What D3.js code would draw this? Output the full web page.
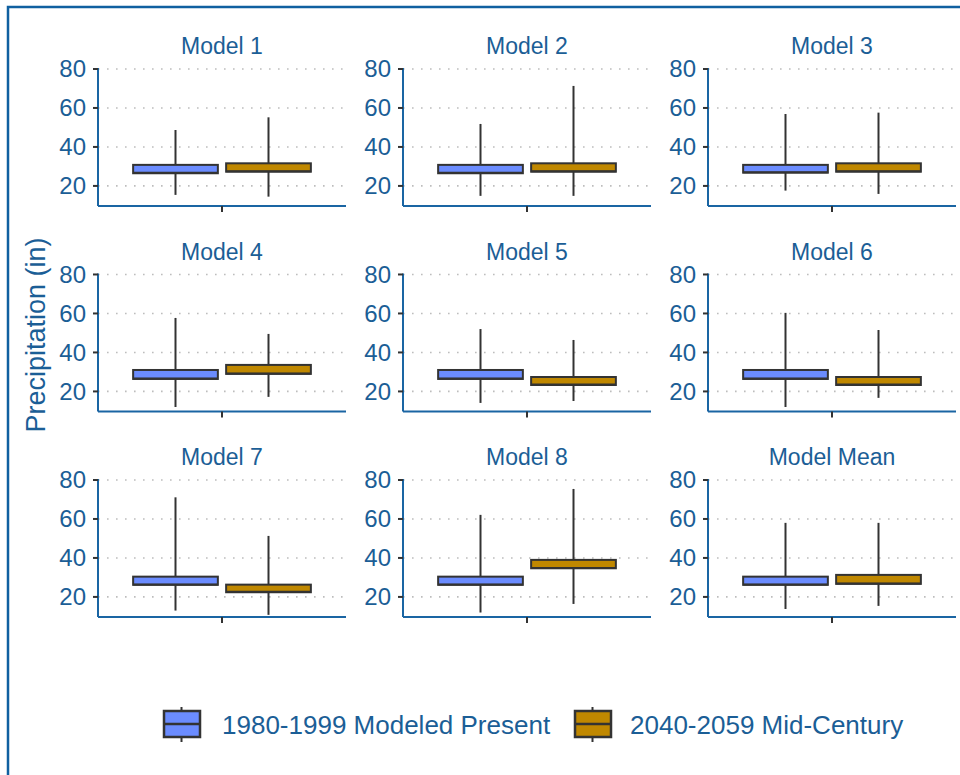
<!DOCTYPE html>
<html>
<head>
<meta charset="utf-8">
<script src="https://cdn.jsdelivr.net/npm/d3@7"></script>
<style>
  html, body { margin: 0; padding: 0; background: #fff; }
  svg { display: block; font-family: "Liberation Sans", Arial, sans-serif; }
</style>
</head>
<body>
<svg id="chart" width="960" height="775"></svg>
<script>
// ---- data ----
const models = ["Model 1", "Model 2", "Model 3", "Model 4", "Model 5", "Model 6", "Model 7", "Model 8", "Model Mean"];
const seriesNames = ["1980-1999 Modeled Present", "2040-2059 Mid-Century"];
const yTicks = [20, 40, 60, 80];

const presentLow  = [15.4, 14.9, 17.6, 12.0, 14.1, 12.0, 13.0, 12.0, 13.8];
const presentQ1   = [26.5, 26.5, 26.8, 26.4, 26.4, 26.4, 26.2, 26.2, 26.2];
const presentMed  = [26.7, 26.7, 27.0, 26.6, 26.6, 26.6, 26.4, 26.4, 26.4];
const presentQ3   = [30.8, 30.8, 30.8, 31.0, 31.0, 31.0, 30.4, 30.4, 30.4];
const presentHigh = [48.7, 51.8, 56.9, 57.7, 52.0, 60.3, 71.1, 62.1, 58.0];

const midLow  = [14.5, 14.9, 15.9, 17.2, 15.1, 16.7, 10.8, 16.4, 15.4];
const midQ1   = [27.3, 27.3, 27.3, 29.0, 23.3, 23.3, 22.4, 34.7, 26.7];
const midMed  = [27.5, 27.5, 27.5, 29.2, 23.5, 23.5, 22.6, 34.9, 26.9];
const midQ3   = [31.6, 31.6, 31.6, 33.6, 27.4, 27.4, 26.3, 39.0, 31.3];
const midHigh = [55.2, 71.3, 57.6, 49.5, 46.4, 51.5, 51.3, 75.4, 58.0];

const fills = ["#6b8cff", "#c08800"];
const textBlue = "#1b5e96";
const axisBlue = "#1a65a3";
const dark = "#333333";

const series = [
  {low: presentLow, q1: presentQ1, med: presentMed, q3: presentQ3, high: presentHigh},
  {low: midLow, q1: midQ1, med: midMed, q3: midQ3, high: midHigh}
];

// ---- layout ----
const svg = d3.select("#chart");
const panelW = 248, panelH = 138;
const colX = c => 98 + c * 305;
const rowY = r => 68 + r * 205.5;

svg.append("rect").attr("x", 8).attr("y", 7).attr("width", 980).attr("height", 800)
  .attr("fill", "none").attr("stroke", "#1060a0").attr("stroke-width", 2.5);

const y = d3.scaleLinear().domain([9.7, 80.5]).range([panelH, 0]);
const x = d3.scaleLinear().domain([0.4, 1.6]).range([0, panelW]);
const offsets = [-0.225, 0.225];
const boxW = x(1.41) - x(1);

models.forEach((m, i) => {
  const c = i % 3, r = Math.floor(i / 3);
  const g = svg.append("g").attr("transform", `translate(${colX(c)},${rowY(r)})`);

  // grid
  g.selectAll("line.grid").data(yTicks).enter().append("line")
    .attr("x1", 0).attr("x2", panelW)
    .attr("y1", d => y(d)).attr("y2", d => y(d))
    .attr("stroke", "#bdbdbd").attr("stroke-width", 1.6)
    .attr("stroke-dasharray", "1.6,7.4");

  // title
  g.append("text").attr("x", x(1)).attr("y", -22)
    .attr("text-anchor", "middle").attr("dominant-baseline", "central")
    .attr("font-size", 23).attr("fill", textBlue).text(m);

  // boxes
  series.forEach((s, k) => {
    const cx = x(1 + offsets[k]);
    g.append("line").attr("x1", cx).attr("x2", cx)
      .attr("y1", y(s.high[i])).attr("y2", y(s.q3[i]))
      .attr("stroke", dark).attr("stroke-width", 2);
    g.append("line").attr("x1", cx).attr("x2", cx)
      .attr("y1", y(s.q1[i])).attr("y2", y(s.low[i]))
      .attr("stroke", dark).attr("stroke-width", 2);
    g.append("rect").attr("x", cx - boxW / 2).attr("width", boxW)
      .attr("y", y(s.q3[i])).attr("height", y(s.q1[i]) - y(s.q3[i]))
      .attr("fill", fills[k]).attr("stroke", dark).attr("stroke-width", 2);
    g.append("line").attr("x1", cx - boxW / 2).attr("x2", cx + boxW / 2)
      .attr("y1", y(s.med[i])).attr("y2", y(s.med[i]))
      .attr("stroke", dark).attr("stroke-width", 2);
  });

  // y axis
  g.append("line").attr("x1", 0).attr("x2", 0).attr("y1", 0).attr("y2", panelH)
    .attr("stroke", axisBlue).attr("stroke-width", 2);
  g.selectAll("line.yt").data(yTicks).enter().append("line")
    .attr("x1", -5).attr("x2", 0).attr("y1", d => y(d)).attr("y2", d => y(d))
    .attr("stroke", dark).attr("stroke-width", 2);
  g.selectAll("text.yl").data(yTicks).enter().append("text")
    .attr("x", -12).attr("y", d => y(d))
    .attr("text-anchor", "end").attr("dominant-baseline", "central")
    .attr("font-size", 24).attr("fill", textBlue).text(d => d);

  // x axis
  g.append("line").attr("x1", 0).attr("x2", panelW).attr("y1", panelH).attr("y2", panelH)
    .attr("stroke", axisBlue).attr("stroke-width", 2);
  g.append("line").attr("x1", x(1)).attr("x2", x(1)).attr("y1", panelH).attr("y2", panelH + 6)
    .attr("stroke", dark).attr("stroke-width", 2);
});

// y label
svg.append("text").attr("transform", "translate(36,335) rotate(-90)")
  .attr("text-anchor", "middle").attr("dominant-baseline", "central")
  .attr("font-size", 27).attr("fill", textBlue).text("Precipitation (in)");

// legend
const legendKeys = [{x: 163, tx: 222}, {x: 574, tx: 630}];
seriesNames.forEach((name, k) => {
  const lg = svg.append("g").attr("transform", `translate(${legendKeys[k].x},707)`);
  lg.append("line").attr("x1", 18.5).attr("x2", 18.5).attr("y1", 0).attr("y2", 35)
    .attr("stroke", dark).attr("stroke-width", 2);
  lg.append("rect").attr("x", 1).attr("y", 4).attr("width", 36).attr("height", 26)
    .attr("fill", fills[k]).attr("stroke", dark).attr("stroke-width", 2.5);
  lg.append("line").attr("x1", 1).attr("x2", 37).attr("y1", 17).attr("y2", 17)
    .attr("stroke", dark).attr("stroke-width", 2.5);
  svg.append("text").attr("x", legendKeys[k].tx).attr("y", 725)
    .attr("dominant-baseline", "central").attr("font-size", 26)
    .attr("fill", textBlue).text(name);
});
</script>
</body>
</html>
